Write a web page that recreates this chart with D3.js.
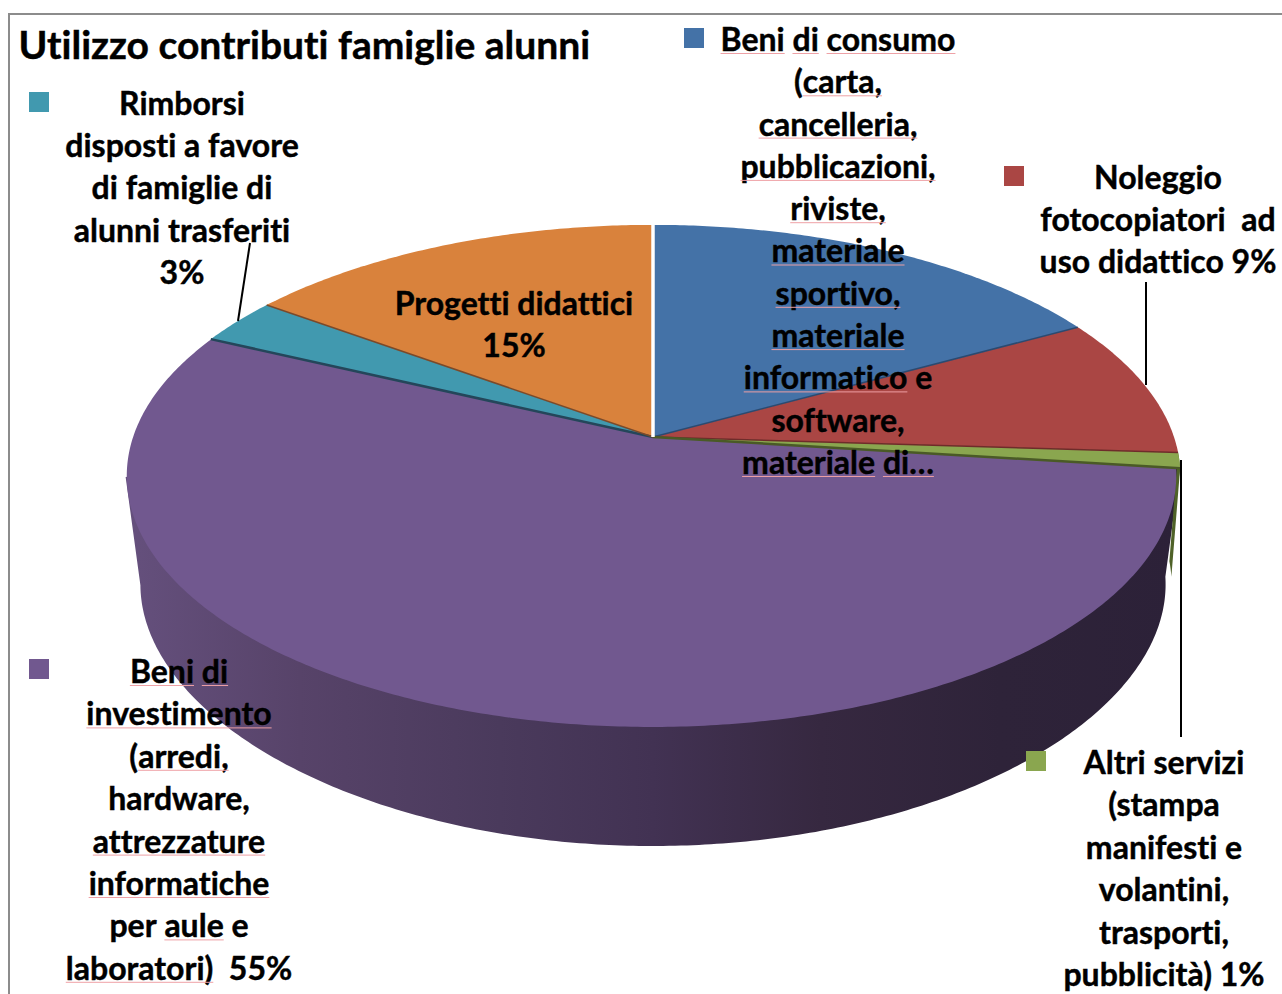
<!DOCTYPE html>
<html>
<head>
<meta charset="utf-8">
<script src="https://cdn.jsdelivr.net/npm/d3@7"></script>
<style>
  html, body { margin: 0; padding: 0; background: #fff; }
  svg { display: block; }
  text {
    font-family: Lato, sans-serif; font-weight: 700; fill: #000;
    stroke: #000; stroke-width: 0.45px;
    font-variant-ligatures: none;
  }
</style>
</head>
<body>
<script>
// Chart data
var categories = ["Beni di consumo", "Noleggio", "Altri servizi", "Beni di investimento", "Rimborsi", "Progetti didattici"];
var values = [17, 9, 1, 55, 3, 15];
var colors = ["#4472a7", "#aa4644", "#8aa64f", "#71588f", "#4199af", "#d9823c"];
var edgeColors = ["#2b4a70", "#6e2c2a", "#4a5a26", "#24465a", "#7a4a2a", "#ffffff"];

// "~" marks a word with the spell-check underline
var labelConsumo = ["~Beni ~di ~consumo", "(~carta,", "~cancelleria,", "~pubblicazioni,", "~riviste,", "~materiale", "~sportivo,", "~materiale", "~informatico e", "software,", "~materiale ~di…"];
var labelNoleggio = ["Noleggio", "fotocopiatori  ad", "uso didattico 9%"];
var labelAltri = ["Altri servizi", "(stampa", "manifesti e", "volantini,", "trasporti,", "pubblicità) 1%"];
var labelInvestimento = ["~Beni ~di", "~investimento", "(~arredi,", "hardware,", "~attrezzature", "~informatiche", "per ~aule e", "~laboratori)  55%"];
var labelRimborsi = ["Rimborsi", "disposti a favore", "di famiglie di", "alunni trasferiti", "3%"];
var labelProgetti = ["Progetti didattici", "15%"];

var width = 1282, height = 994;
var svg = d3.select("body").append("svg")
    .attr("width", width)
    .attr("height", height);

// Perspective of the tilted disc
var cx = 653, cy = 437, rx = 521, ry = 245, k = 0.155;
// Lower rim of the wall is a slightly different curve
var bottomRx = 506.4, bottomY = 546, bottomRy = 240, bottomK = 0.2;

function topPoint(angle) {
    var u = Math.sin(angle), v = -Math.cos(angle);
    var w = 1 - k * v;
    return [cx + rx * u / w, cy + ry * v / w];
}

function bottomPoint(angle) {
    var u = Math.sin(angle), v = -Math.cos(angle);
    return [cx + bottomRx * u / (1 - k * v), bottomY + bottomRy * v / (1 - bottomK * v)];
}

function arcAngles(a0, a1) {
    var n = Math.max(2, Math.ceil((a1 - a0) / 0.01));
    return d3.range(n + 1).map(function(i) { return a0 + (a1 - a0) * i / n; });
}

var line = d3.line();
var pie = d3.pie().sort(null).value(function(d) { return d; });
var slices = pie(values);

// Side wall shading runs left to right
var defs = svg.append("defs");
var wallGradient = defs.append("linearGradient")
    .attr("id", "wall")
    .attr("gradientUnits", "userSpaceOnUse")
    .attr("x1", 126).attr("x2", 1180).attr("y1", 0).attr("y2", 0);
wallGradient.selectAll("stop")
    .data([[0, "#65507d"], [0.165, "#574369"], [0.355, "#4a3a5c"], [0.5, "#423253"], [0.66, "#362840"], [0.83, "#2e2339"], [1, "#2c2138"]])
    .enter().append("stop")
    .attr("offset", function(d) { return d[0]; })
    .attr("stop-color", function(d) { return d[1]; });

// Purple wall stops at the leftmost point so top and bottom rims join in one straight edge.
// Its upper side runs through the centre, the top face covers it anyway.
var walls = svg.append("g");
var purple = slices[3];
var leftAngle = d3.least(arcAngles(purple.startAngle, purple.endAngle), function(a) { return topPoint(a)[0]; });
var purpleAngles = arcAngles(purple.startAngle, leftAngle);
walls.append("path")
    .attr("d", line([topPoint(purple.startAngle), [cx, cy], topPoint(leftAngle)]
        .concat(purpleAngles.map(bottomPoint).reverse())) + "Z")
    .attr("fill", "url(#wall)");

// Green wall sticks out a little past the purple one
var green = slices[2];
var greenShift = 6;
var greenAngles = arcAngles(green.startAngle, green.endAngle);
walls.append("path")
    .attr("d", line(greenAngles.map(topPoint).concat(greenAngles.map(function(a) {
        var p = bottomPoint(a);
        return [p[0] + greenShift, p[1]];
    }).reverse())) + "Z")
    .attr("fill", "#4f6228");

// Top faces, purple pulled in slightly on the right
svg.append("g").selectAll("path")
    .data(slices)
    .enter().append("path")
    .attr("d", function(d) {
        return line([[cx, cy]].concat(arcAngles(d.startAngle, d.endAngle).map(topPoint))) + "Z";
    })
    .attr("transform", function(d, i) {
        return i === 3 ? "translate(" + (cx - 1.5) + ",0) scale(0.995,1) translate(" + (-cx) + ",0)" : null;
    })
    .attr("fill", function(d, i) { return colors[i]; });

// Darker edge along the end of each slice, white for the last one
svg.append("g").selectAll("line")
    .data(slices)
    .enter().append("line")
    .attr("x1", cx)
    .attr("y1", cy)
    .attr("x2", function(d) { return topPoint(d.endAngle)[0]; })
    .attr("y2", function(d) { return topPoint(d.endAngle)[1]; })
    .attr("stroke", function(d, i) { return edgeColors[i]; })
    .attr("stroke-width", function(d, i) { return i === 5 ? 3.5 : (i === 2 || i === 3 ? 2.5 : 1.5); });

// Frame
svg.append("path")
    .attr("d", "M9,994V14H1282")
    .attr("fill", "none")
    .attr("stroke", "#8c8c8c")
    .attr("stroke-width", 2);

// Leader lines
var leaders = [[250, 243, 238, 321], [1146, 282, 1146, 385], [1181, 460, 1181, 737]];
svg.append("g").selectAll("line")
    .data(leaders)
    .enter().append("line")
    .attr("x1", function(d) { return d[0]; })
    .attr("y1", function(d) { return d[1]; })
    .attr("x2", function(d) { return d[2]; })
    .attr("y2", function(d) { return d[3]; })
    .attr("stroke", "#000")
    .attr("stroke-width", 2);

// Legend keys
var keys = [[684, 28, 0], [1004, 166, 1], [1026, 751, 2], [29, 659, 3], [29, 92, 4]];
svg.append("g").selectAll("rect")
    .data(keys)
    .enter().append("rect")
    .attr("x", function(d) { return d[0]; })
    .attr("y", function(d) { return d[1]; })
    .attr("width", 20)
    .attr("height", 20)
    .attr("fill", function(d) { return colors[d[2]]; });

// Centred multi-line label, squeezed a little to get Calibri-like widths
var squeeze = 0.97;
function drawLabel(lines, x, firstBaseline, lineStep) {
    var g = svg.append("g")
        .attr("transform", "translate(" + x + ",0) scale(" + squeeze + ",1)");
    lines.forEach(function(textLine, i) {
        var y = firstBaseline + i * lineStep;
        var t = g.append("text")
            .attr("y", y)
            .attr("text-anchor", "middle")
            .style("font-size", "33px")
            .style("white-space", "pre");
        var words = textLine.split(" ");
        var marked = [];
        words.forEach(function(w, j) {
            // opening bracket stays outside the underline
            var m = w.match(/^(\(?)~(.*)$/);
            if (m && m[1]) t.append("tspan").text(m[1]);
            var span = t.append("tspan").text((m ? m[2] : w));
            if (m) marked.push(span);
            if (j < words.length - 1) t.append("tspan").text(" ");
        });
        marked.forEach(function(span) {
            var b = span.node().getBBox();
            g.append("line")
                .attr("x1", b.x).attr("x2", b.x + b.width)
                .attr("y1", y + 2.5).attr("y2", y + 2.5)
                .attr("stroke", "#eea0a5")
                .attr("stroke-width", 1);
        });
    });
}

drawLabel(labelConsumo, 838, 51, 42.3);
drawLabel(labelNoleggio, 1158, 189, 42.2);
drawLabel(labelAltri, 1164, 774, 42.4);
drawLabel(labelInvestimento, 179, 683, 42.4);
drawLabel(labelRimborsi, 182, 115, 42.2);
drawLabel(labelProgetti, 514, 315, 42);

// Title
svg.append("text")
    .attr("x", 18.5)
    .attr("y", 59)
    .style("font-size", "39px")
    .text("Utilizzo contributi famiglie alunni");
</script>
</body>
</html>
